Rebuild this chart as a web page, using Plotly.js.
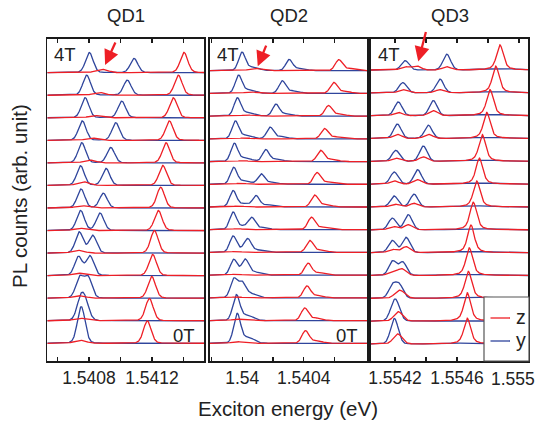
<!DOCTYPE html>
<html>
<head>
<meta charset="utf-8">
<script src="https://cdn.plot.ly/plotly-3.0.1.min.js"></script>
<style>
  html, body { margin: 0; padding: 0; background: #fff; }
  #plot { width: 537px; height: 423px; }
</style>
</head>
<body>
<div id="plot"></div>
<script>
// Field steps of the stacked spectra: index 0 = 0 T (bottom) ... index 12 = 4 T (top)
const fields = [0, 0.33, 0.67, 1.0, 1.33, 1.67, 2.0, 2.33, 2.67, 3.0, 3.33, 3.67, 4.0];

// ---------- QD1 : peak centres (eV) and heights (arb. unit) ----------
const q1_y1_E = [1.540749, 1.540746, 1.540740, 1.540733, 1.540738, 1.540746, 1.540749, 1.540746, 1.540754, 1.540757, 1.540775, 1.540785, 1.540802];
const q1_y1_h = [0.82, 0.89, 0.91, 0.84, 0.93, 0.89, 0.84, 0.87, 0.89, 0.86, 0.89, 0.89, 0.89];
const q1_y2_E = [1.540752, 1.540778, 1.540794, 1.540806, 1.540823, 1.540870, 1.540891, 1.540908, 1.540938, 1.540970, 1.541008, 1.541043, 1.541086];
const q1_y2_h = [0.81, 0.69, 0.91, 0.87, 0.78, 0.77, 0.65, 0.75, 0.68, 0.78, 0.74, 0.67, 0.63];
const q1_z1_E = [1.541170, 1.541183, 1.541198, 1.541204, 1.541215, 1.541240, 1.541255, 1.541268, 1.541289, 1.541310, 1.541335, 1.541367, 1.541403];
const q1_z1_h = [0.99, 0.99, 0.96, 0.94, 1.00, 0.89, 0.92, 0.89, 0.89, 0.86, 0.89, 0.89, 0.90];
const q1_z2_E = [1.540743, 1.540743, 1.540737, 1.540730, 1.540728, 1.540738, 1.540754, 1.540764, 1.540806, 1.540817, 1.540838, 1.540865, 1.540881];
const q1_z2_h = [0.13, 0.11, 0.11, 0.11, 0.12, 0.10, 0.10, 0.16, 0.12, 0.10, 0.10, 0.12, 0.15];

// ---------- QD2 ----------
const q2_y1_E = [1.539965, 1.539957, 1.539945, 1.539944, 1.539940, 1.539940, 1.539940, 1.539944, 1.539948, 1.539955, 1.539968, 1.539976, 1.539998];
const q2_y1_h = [0.66, 0.70, 0.81, 0.67, 0.70, 0.75, 0.70, 0.72, 0.78, 0.76, 0.78, 0.78, 0.79];
const q2_y2_E = [1.539968, 1.539968, 1.539997, 1.540019, 1.540037, 1.540063, 1.540090, 1.540123, 1.540153, 1.540181, 1.540219, 1.540260, 1.540305];
const q2_y2_h = [0.62, 0.44, 0.53, 0.55, 0.48, 0.47, 0.47, 0.44, 0.51, 0.50, 0.51, 0.54, 0.48];
const q2_z1_E = [1.540411, 1.540406, 1.540421, 1.540428, 1.540439, 1.540450, 1.540471, 1.540486, 1.540510, 1.540535, 1.540561, 1.540595, 1.540628];
const q2_z1_h = [0.54, 0.54, 0.51, 0.51, 0.51, 0.53, 0.51, 0.50, 0.48, 0.44, 0.45, 0.47, 0.47];
const q2_z2_E = [1.539968, 1.539968, 1.539961, 1.539961, 1.539961, 1.539968, 1.539974, 1.539987, 1.540000, 1.540013, 1.540032, 1.540052, 1.540084];
const q2_z2_h = [0.07, 0.06, 0.04, 0.04, 0.04, 0.04, 0.04, 0.04, 0.04, 0.04, 0.05, 0.06, 0.10];

// ---------- QD3 ----------
const q3_y1_E = [1.554195, 1.554190, 1.554184, 1.554185, 1.554183, 1.554183, 1.554194, 1.554195, 1.554205, 1.554215, 1.554221, 1.554250, 1.554265];
const q3_y1_h = [0.56, 0.59, 0.55, 0.63, 0.53, 0.51, 0.48, 0.53, 0.48, 0.63, 0.60, 0.45, 0.41];
const q3_y2_E = [1.554197, 1.554213, 1.554229, 1.554250, 1.554271, 1.554286, 1.554323, 1.554346, 1.554383, 1.554415, 1.554447, 1.554490, 1.554534];
const q3_y2_h = [0.56, 0.50, 0.55, 0.58, 0.67, 0.66, 0.56, 0.63, 0.67, 0.58, 0.66, 0.60, 0.69];
const q3_y3_h = [0.04, 0.04, 0.05, 0.05, 0.05, 0.05, 0.05, 0.05, 0.05, 0.05, 0.05, 0.05, 0.06];
const q3_z1_E = [1.554666, 1.554666, 1.554673, 1.554679, 1.554690, 1.554705, 1.554727, 1.554744, 1.554763, 1.554792, 1.554813, 1.554850, 1.554877];
const q3_z1_h = [1.13, 1.24, 1.18, 1.21, 1.21, 1.21, 1.14, 1.14, 1.17, 1.14, 1.14, 1.17, 1.10];
const q3_z2_E = [1.554217, 1.554221, 1.554219, 1.554179, 1.554183, 1.554189, 1.554200, 1.554195, 1.554205, 1.554215, 1.554221, 1.554250, 1.554265];
const q3_z2_h = [0.44, 0.41, 0.22, 0.14, 0.14, 0.14, 0.12, 0.14, 0.14, 0.18, 0.14, 0.14, 0.14];
const q3_z3_E = [1.554219, 1.554232, 1.554245, 1.554243, 1.554271, 1.554286, 1.554323, 1.554346, 1.554383, 1.554415, 1.554447, 1.554490, 1.554534];
const q3_z3_h = [0.00, 0.00, 0.18, 0.29, 0.26, 0.22, 0.16, 0.19, 0.19, 0.18, 0.22, 0.14, 0.14];
// weak z line marked by the arrow at 4 T
const q3_z4_row = [12];
const q3_z4_E = [1.554340];
const q3_z4_h = [0.17];

// Panel titles and x tick labels
const panelNames = ['QD1', 'QD2', 'QD3'];
const tickVals = [
  [1.5406, 1.5408, 1.5410, 1.5412, 1.5414],
  [1.5398, 1.5400, 1.5402, 1.5404, 1.5406],
  [1.5542, 1.5544, 1.5546, 1.5548, 1.5550]
];
const tickText = [
  ['', '1.5408', '', '1.5412', ''],
  ['', '1.54', '', '1.5404', ''],
  ['1.5542', '', '1.5546', '', '']
];
// the last QD3 label sits against the right page edge, so it is placed right-aligned
const edgeLabel = '1.555';

// ---------- line shapes ----------
function pv(E, c, h, w, eta) {
  const u = (E - c) / w;
  return h * (eta / (1 + 4 * u * u) + (1 - eta) * Math.exp(-4 * Math.LN2 * u * u));
}
// QD2 lines carry a weak tail on the high-energy side
function tailed(E, c, h, w) {
  return pv(E, c, h, w, 0.1) + pv(E, c + 7.1e-5, 0.2 * h, 9e-5, 0);
}

const BLUE = '#2f459c', RED = '#ee1f26';
const ranges = [[1.540535, 1.541532], [1.539790, 1.540814], [1.554045, 1.555058]];
const yRanges = [[-0.785, 13.494], [-0.779, 13.395], [-0.745, 13.358]];
const N = 520;

function grid(r) {
  const g = [];
  for (let k = 0; k <= N; k++) g.push(r[0] + (r[1] - r[0]) * k / N);
  return g;
}

const profiles = [
  { // QD1
    y: (E, i) => pv(E, q1_y1_E[i], q1_y1_h[i], 5.7e-5, 0.15) + pv(E, q1_y2_E[i], q1_y2_h[i], 5.7e-5, 0.15),
    z: (E, i) => pv(E, q1_z1_E[i], q1_z1_h[i], 5.7e-5, 0.2) + pv(E, q1_z2_E[i], q1_z2_h[i], 9e-5, 0)
  },
  { // QD2
    y: (E, i) => tailed(E, q2_y1_E[i], q2_y1_h[i], 5.2e-5) + tailed(E, q2_y2_E[i], q2_y2_h[i], 5.2e-5),
    z: (E, i) => tailed(E, q2_z1_E[i], q2_z1_h[i], 5.4e-5) + pv(E, q2_z2_E[i], q2_z2_h[i], 9e-5, 0)
  },
  { // QD3
    y: (E, i) => pv(E, q3_y1_E[i], q3_y1_h[i], 5.8e-5, 0.1) + pv(E, q3_y2_E[i], q3_y2_h[i], 5.8e-5, 0.1)
                 + pv(E, q3_z1_E[i], q3_y3_h[i], 2.6e-4, 0),
    z: (E, i) => {
      let s = pv(E, q3_z1_E[i], q3_z1_h[i], 5.2e-5, 0.6)
            + pv(E, q3_z2_E[i], q3_z2_h[i], 6.5e-5, 0.1)
            + pv(E, q3_z3_E[i], q3_z3_h[i], 6.5e-5, 0.1);
      q3_z4_row.forEach((r, k) => { if (r === i) s += pv(E, q3_z4_E[k], q3_z4_h[k], 6.5e-5, 0); });
      return s;
    }
  }
];

const traces = [];
['y', 'z'].forEach(pol => {
  for (let p = 0; p < 3; p++) {
    const xs = grid(ranges[p]);
    const ax = p === 0 ? '' : String(p + 1);
    for (let i = 0; i < fields.length; i++) {
      traces.push({
        type: 'scatter', mode: 'lines',
        x: xs, y: xs.map(E => i + profiles[p][pol](E, i)),
        xaxis: 'x' + ax, yaxis: 'y' + ax,
        line: { color: pol === 'y' ? BLUE : RED, width: 1.3 },
        hoverinfo: 'skip', showlegend: false
      });
    }
  }
});

const FONT = 'Liberation Sans, Arial, sans-serif';
const TXT = '#222';
const W = 537, H = 423;
const xDom = [[47.3, 204.3], [210, 367.3], [371, 528]];
const yDom = [1 - 361 / H, 1 - 39 / H];

const layout = {
  width: W, height: H,
  margin: { l: 0, r: 0, t: 0, b: 0 },
  paper_bgcolor: '#fff', plot_bgcolor: '#fff',
  showlegend: false,
  font: { family: FONT, color: TXT, size: 17 },
  annotations: [], shapes: []
};

for (let p = 0; p < 3; p++) {
  const s = p === 0 ? '' : String(p + 1);
  layout['xaxis' + s] = {
    domain: [xDom[p][0] / W, xDom[p][1] / W], range: ranges[p],
    anchor: 'y' + s, showgrid: false, zeroline: false,
    showline: true, mirror: 'ticks', linewidth: 1.6, linecolor: '#1a1a1a',
    ticks: 'inside', ticklen: 4, tickwidth: 1.4, tickcolor: '#1a1a1a',
    tickmode: 'array', tickvals: tickVals[p], ticktext: tickText[p],
    tickfont: { size: 17.5, color: TXT, family: FONT }, fixedrange: true
  };
  layout['yaxis' + s] = {
    domain: yDom, range: yRanges[p], anchor: 'x' + s,
    showgrid: false, zeroline: false, showticklabels: false, ticks: '',
    showline: true, mirror: true, linewidth: 1.6, linecolor: '#1a1a1a', fixedrange: true
  };
  // panel title
  layout.annotations.push({
    xref: 'paper', yref: 'paper', x: (xDom[p][0] + xDom[p][1]) / 2 / W, y: 1 - 15 / H,
    text: panelNames[p], showarrow: false, xanchor: 'center', yanchor: 'middle',
    font: { size: 18.5, family: FONT, color: TXT }
  });
  // field labels
  layout.annotations.push({
    xref: 'paper', yref: 'paper', x: (xDom[p][0] + 5) / W, y: 1 - 55 / H,
    text: '4T', showarrow: false, xanchor: 'left', yanchor: 'middle',
    font: { size: 18.5, family: FONT, color: TXT }
  });
  if (p < 2) {
    layout.annotations.push({
      xref: 'paper', yref: 'paper', x: (xDom[p][1] - 7) / W, y: 1 - 335 / H,
      text: '0T', showarrow: false, xanchor: 'right', yanchor: 'middle',
      font: { size: 18.5, family: FONT, color: TXT }
    });
  }
}

// right-edge tick label of QD3
layout.annotations.push({
  xref: 'paper', yref: 'paper', x: 536.5 / W, y: 1 - 378.5 / H, text: edgeLabel,
  showarrow: false, xanchor: 'right', yanchor: 'middle',
  font: { size: 17.5, family: FONT, color: TXT }
});

// arrows marking the weak z line at 4 T
const arrowTips = [
  { xr: 'x', yr: 'y', x: 1.540902, y: 12.34, ax: 11, ay: -24 },
  { xr: 'x2', yr: 'y2', x: 1.540101, y: 12.20, ax: 9, ay: -22 },
  { xr: 'x3', yr: 'y3', x: 1.554350, y: 12.37, ax: 8, ay: -31 }
];
arrowTips.forEach(a => layout.annotations.push({
  xref: a.xr, yref: a.yr, x: a.x, y: a.y, ax: a.ax, ay: a.ay, text: '',
  showarrow: true, arrowhead: 2, arrowsize: 1.3, arrowwidth: 2.3, arrowcolor: RED
}));

// axis titles
layout.annotations.push({
  xref: 'paper', yref: 'paper', x: 288 / W, y: 1 - 408 / H, text: 'Exciton energy (eV)',
  showarrow: false, xanchor: 'center', yanchor: 'middle', font: { size: 20.5, family: FONT, color: TXT }
});
layout.annotations.push({
  xref: 'paper', yref: 'paper', x: 19 / W, y: 1 - 196 / H, text: 'PL counts (arb. unit)',
  showarrow: false, textangle: -90, xanchor: 'center', yanchor: 'middle',
  font: { size: 20.5, family: FONT, color: TXT }
});

// legend box inside the QD3 panel
const lg = { x0: 484, x1: 529, y0: 297, y1: 361 };
layout.shapes.push({
  type: 'rect', xref: 'paper', yref: 'paper',
  x0: lg.x0 / W, x1: lg.x1 / W, y0: 1 - lg.y1 / H, y1: 1 - lg.y0 / H,
  fillcolor: '#fff', line: { color: '#555', width: 1.2 }, layer: 'above'
});
[{ name: 'z', c: RED, yy: 318 }, { name: 'y', c: BLUE, yy: 341 }].forEach(e => {
  layout.shapes.push({
    type: 'line', xref: 'paper', yref: 'paper',
    x0: 490.5 / W, x1: 510 / W, y0: 1 - e.yy / H, y1: 1 - e.yy / H,
    line: { color: e.c, width: 1.3 }, layer: 'above'
  });
  layout.annotations.push({
    xref: 'paper', yref: 'paper', x: 514 / W, y: 1 - (e.yy - 1) / H, text: e.name,
    showarrow: false, xanchor: 'left', yanchor: 'middle',
    font: { size: 19.5, family: FONT, color: TXT }
  });
});

Plotly.newPlot('plot', traces, layout, { staticPlot: true, displayModeBar: false });
</script>
</body>
</html>
